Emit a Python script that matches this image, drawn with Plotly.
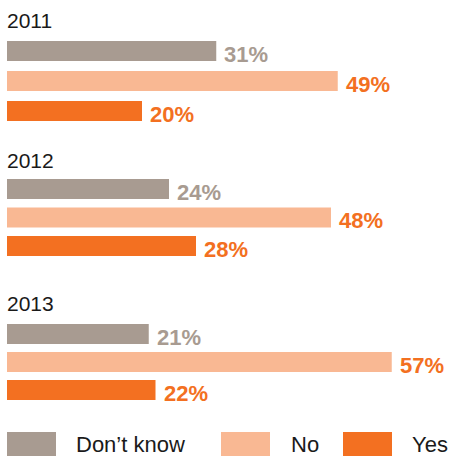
import plotly.graph_objects as go
from plotly.subplots import make_subplots

years = ["2011", "2012", "2013"]
categories = ["Don’t know", "No", "Yes"]
dont_know = [31, 24, 21]
no = [49, 48, 57]
yes = [20, 28, 22]

bar_colors = ["#A89B91", "#F9B893", "#F37021"]
label_colors = ["#A89B91", "#F37021", "#F37021"]

W, H = 449, 457
LM = 7
FONT = "Liberation Sans, Arial, Helvetica, sans-serif"

fig = make_subplots(rows=3, cols=1)

series = [dont_know, no, yes]
groups_px = [(36, 126), (174.75, 260.25), (320, 404)]
bar_widths = [0.667, 0.70, 0.714]
title_px = [20, 160, 303]

annotations = []
for r, yr in enumerate(years):
    for s, cat in enumerate(categories):
        v = series[s][r]
        fig.add_trace(go.Bar(
            x=[v], y=[cat], orientation="h",
            marker=dict(color=bar_colors[s], line=dict(width=0)),
            width=bar_widths[r], name=cat, showlegend=False,
            hoverinfo="skip",
        ), row=r + 1, col=1)
        annotations.append(dict(
            x=v, y=cat, xref=f"x{r+1}" if r else "x", yref=f"y{r+1}" if r else "y",
            text=f"<b>{v}%</b>", showarrow=False, xanchor="left", yanchor="middle",
            xshift=6, yshift=-3,
            font=dict(family=FONT, size=22, color=label_colors[s]),
        ))
    annotations.append(dict(
        x=0, y=1 - title_px[r] / H, xref="paper", yref="paper",
        text=yr, showarrow=False, xanchor="left", yanchor="middle", xshift=-2,
        font=dict(family=FONT, size=21, color="#1a1a1a"),
    ))

plot_w = W - LM
xmax = plot_w / 6.75
for r in range(3):
    top, bot = groups_px[r]
    xa = "xaxis" if r == 0 else f"xaxis{r+1}"
    ya = "yaxis" if r == 0 else f"yaxis{r+1}"
    fig.update_layout(**{
        xa: dict(range=[0, xmax], visible=False, fixedrange=True),
        ya: dict(domain=[1 - bot / H, 1 - top / H], range=[2.5, -0.5],
                 visible=False, type="category", categoryorder="array",
                 categoryarray=categories),
    })

legend_px = [(7, 56, 77), (221, 270, 292), (343, 392, 413)]
shapes = []
for i, cat in enumerate(categories):
    x0, x1, tx = legend_px[i]
    shapes.append(dict(type="rect", xref="paper", yref="paper",
                       x0=(x0 - LM) / plot_w, x1=(x1 - LM) / plot_w,
                       y0=1 - 456 / H, y1=1 - 432 / H,
                       fillcolor=bar_colors[i], line=dict(width=0)))
    annotations.append(dict(
        x=(tx - LM) / plot_w, y=1 - 444 / H, xref="paper", yref="paper",
        text=cat, showarrow=False, xanchor="left", yanchor="middle", xshift=-3,
        font=dict(family=FONT, size=22, color="#1a1a1a"),
    ))

fig.update_layout(
    width=W, height=H,
    margin=dict(l=LM, r=0, t=0, b=0),
    paper_bgcolor="white", plot_bgcolor="white",
    barmode="overlay", showlegend=False,
    annotations=annotations, shapes=shapes,
)

fig.write_html("out.html", config={"displayModeBar": False})
